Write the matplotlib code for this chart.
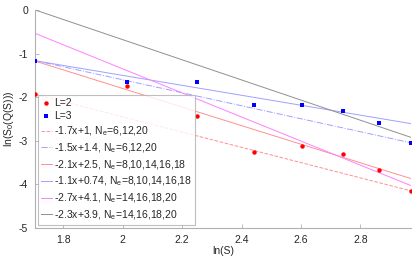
import numpy as np
import matplotlib
matplotlib.use("Agg")
import matplotlib.pyplot as plt

plt.rcParams['font.family'] = ['Liberation Sans', 'DejaVu Sans']
plt.rcParams['mathtext.fontset'] = 'custom'
plt.rcParams['mathtext.rm'] = 'Liberation Sans'
plt.rcParams['mathtext.it'] = 'Liberation Sans'
plt.rcParams['mathtext.default'] = 'regular'

# Data
S_vals = [5.5, 7.5, 9.5, 11.5, 13.5, 15.5, 17.5, 19.5]
L2_vals = [-1.93, -1.74, -2.44, -3.25, -3.13, -3.30, -3.66, -4.15]
L3_vals = [-1.16, -1.64, -1.64, -2.17, -2.17, -2.31, -2.59, -3.04]

fit_slopes = [-1.75, -1.49, -2.13, -1.14, -2.76, -2.31]
fit_intercepts = [1.05, 1.38, 2.46, 0.78, 4.17, 3.94]
fit_labels = [
    "-1.7x+1, N$_e$=6,12,20",
    "-1.5x+1.4, N$_e$=6,12,20",
    "-2.1x+2.5, N$_e$=8,10,14,16,18",
    "-1.1x+0.74, N$_e$=8,10,14,16,18",
    "-2.7x+4.1, N$_e$=14,16,18,20",
    "-2.3x+3.9, N$_e$=14,16,18,20",
]
fit_colors = ["#ff9090", "#a0a0ff", "#ff9090", "#a0a0ff", "#ff80ff", "#909090"]
fit_styles = ["--", "-.", "-", "-", "-", "-"]

x_ticks = [1.8, 2.0, 2.2, 2.4, 2.6, 2.8]
x_ticklabels = ["1.8", "2", "2.2", "2.4", "2.6", "2.8"]
y_ticks = [0, -1, -2, -3, -4, -5]

x = np.log(S_vals)

fig = plt.figure(figsize=(4.15, 2.63), dpi=100)
ax = fig.add_axes([35/415, 1-228/263, (411-35)/415, (228-10)/263])

ax.plot(x, L2_vals, 'o', color='#ff0000', markersize=3.2, markeredgewidth=0, label='L=2', zorder=5)
ax.plot(x, L3_vals, 's', color='#0000ff', markersize=3.2, markeredgewidth=0, label='L=3', zorder=5)

xx = np.array([x.min(), x.max()])
for m, b, lab, c, ls in zip(fit_slopes, fit_intercepts, fit_labels, fit_colors, fit_styles):
    ax.plot(xx, m*xx + b, ls, color=c, lw=0.7, label=lab)

ax.set_xlim(x.min(), x.max())
ax.set_ylim(-5, 0)
ax.set_xticks(x_ticks)
ax.set_xticklabels(x_ticklabels)
ax.set_yticks(y_ticks)
ax.set_yticklabels([str(v) for v in y_ticks])
for s in ['top', 'right']:
    ax.spines[s].set_visible(False)
for s in ['left', 'bottom']:
    ax.spines[s].set_color('#b0b0b0')
    ax.spines[s].set_linewidth(0.8)
ax.tick_params(direction='in', length=3, width=0.6, color='#b0b0b0', labelsize=7.5, labelcolor='#262626', pad=5)

ax.set_xlabel("ln(S)", fontsize=7.5, color='#262626', labelpad=1)
ax.set_ylabel("ln(S$_0$(Q(S)))", fontsize=7.5, color='#262626', labelpad=2)

leg = ax.legend(loc='lower left', fontsize=7.5, frameon=True, fancybox=False,
                handlelength=1.0, handletextpad=0.2, borderpad=0.3,
                labelspacing=0.3, borderaxespad=0.3, markerscale=1.0)
leg.get_frame().set_edgecolor('#b0b0b0')
leg.get_frame().set_linewidth(0.8)
for t in leg.get_texts():
    t.set_color('#262626')

fig.savefig("out.png", dpi=100)
